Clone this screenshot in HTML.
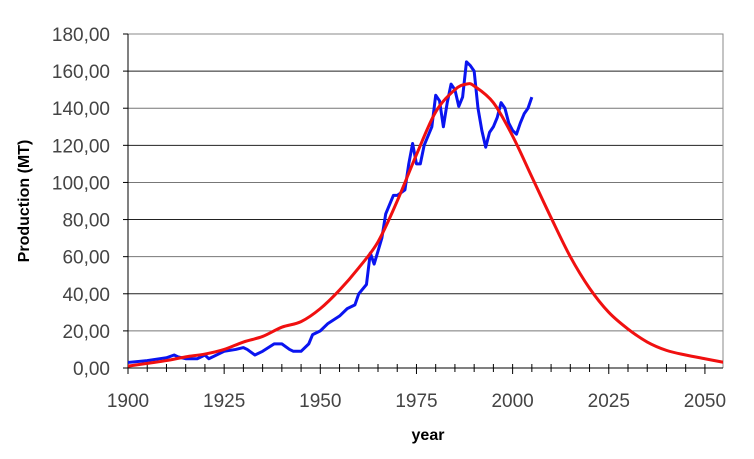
<!DOCTYPE html>
<html><head><meta charset="utf-8"><style>
html,body{margin:0;padding:0;background:#fff;}
svg{display:block;font-family:"Liberation Sans",Arial,sans-serif;}
</style></head><body>
<svg id="chart" width="754" height="459" viewBox="0 0 754 459">
<g id="grid"></g>
<g id="axes"></g>
<g id="series"></g>
<text x="428" y="440" text-anchor="middle" font-size="16" font-weight="bold" fill="#000">year</text>
<text transform="translate(29,201) rotate(-90)" text-anchor="middle" font-size="16" font-weight="bold" fill="#000">Production (MT)</text>
</svg>
<script>
const yTicks=[0,20,40,60,80,100,120,140,160,180];
const xLabels=[1900,1925,1950,1975,2000,2025,2050];
const actualYears=[1900,1905,1910,1912,1913,1915,1918,1920,1921,1925,1928,1930,1931,1933,1935,1938,1940,1942,1943,1945,1947,1948,1950,1952,1955,1957,1959,1960,1962,1963,1964,1966,1967,1968,1969,1970,1972,1973,1974,1975,1976,1977,1979,1980,1981,1982,1983,1984,1985,1986,1987,1988,1989,1990,1991,1992,1993,1994,1995,1996,1997,1998,1999,2000,2001,2002,2003,2004,2005];
const actualValues=[3,4,5.5,7,6,5,5,7,5,9,10,11,10,7,9,13,13,10,9,9,13,18,20,24,28,32,34,40,45,62,56,70,83,88,93,93,96,110,121,110,110,120,130,147,144,130,143,153,150,141,146,165,163,160,140,128,119,127,130,135,143,140,132,128,126,132,137,140,146];
const modelYears=[1900,1905,1910,1915,1920,1925,1930,1935,1940,1945,1950,1955,1960,1965,1970,1975,1980,1985,1988,1990,1995,2000,2005,2010,2015,2020,2025,2030,2035,2040,2045,2050,2055];
const modelValues=[1,2.5,4,6,7.5,10,14,17,22,25,32,42,54,68,90,115,138,150,153,152,143,125,103,81,60,43,30,21,14,9.5,7,5,3];
const NS='http://www.w3.org/2000/svg';
const L=128,R=723,T=34,B=368,x0=1900,x1=2054.7,yMax=180;
const X=v=>L+(v-x0)/(x1-x0)*(R-L);
const Y=v=>B-v/yMax*(B-T);
function mk(tag,parent,attrs){const e=document.createElementNS(NS,tag);for(const k in attrs)e.setAttribute(k,attrs[k]);parent.appendChild(e);return e;}
const grid=document.getElementById('grid'),axes=document.getElementById('axes'),series=document.getElementById('series');
yTicks.forEach((t,i)=>{
  if(t>0){const g=mk('line',grid,{x1:L,x2:R,y1:Y(t),y2:Y(t),stroke:(i%2?'#777':'#222'),'stroke-width':1});
  
  }
  const tk=mk('line',axes,{x1:L-5,x2:L,y1:Y(t),y2:Y(t),stroke:'#000'});
  
  
  const lb=mk('text',axes,{x:L-18,y:Y(t)+7,'text-anchor':'end','font-size':'19',fill:'#444'});
  lb.textContent=t+',00';
  
  
});
const rb=mk('polyline',axes,{points:`${L},${T} ${R},${T} ${R},${B}`,fill:'none',stroke:'#888'});


const ya=mk('line',axes,{x1:L,x2:L,y1:T,y2:B,stroke:'#000'});


const xa=mk('line',axes,{x1:L,x2:R,y1:B,y2:B,stroke:'#000'});


for(let yr=1900;yr<=2054;yr+=5){
  const tk=mk('line',axes,{x1:X(yr),x2:X(yr),y1:B-4,y2:B+(yr%25===0?6:4),stroke:'#000'});
  
  
}
xLabels.forEach(v=>{
  const lb=mk('text',axes,{x:X(v),y:407,'text-anchor':'middle','font-size':'19',fill:'#444'});
  lb.textContent=v;
  
  
});
const blue=mk('polyline',series,{points:actualYears.map((y,i)=>X(y)+','+Y(actualValues[i])).join(' '),fill:'none',stroke:'#0a14f0','stroke-width':3,'stroke-linejoin':'round'});


const mp=modelYears.map((y,i)=>[X(y),Y(modelValues[i])]);
let d='M'+mp[0][0]+','+mp[0][1];
for(let i=0;i<mp.length-1;i++){const p0=mp[i-1]||mp[i],p1=mp[i],p2=mp[i+1],p3=mp[i+2]||p2;
 d+=` C${p1[0]+(p2[0]-p0[0])/6},${p1[1]+(p2[1]-p0[1])/6} ${p2[0]-(p3[0]-p1[0])/6},${p2[1]-(p3[1]-p1[1])/6} ${p2[0]},${p2[1]}`;}
const cp=mk('clipPath',series,{id:'clip'});mk('rect',cp,{x:L,y:T-5,width:R-L,height:B-T+10});
const red=mk('path',series,{d:d,fill:'none',stroke:'#f01010','stroke-width':3,'clip-path':'url(#clip)'});


</script>
</body></html>
